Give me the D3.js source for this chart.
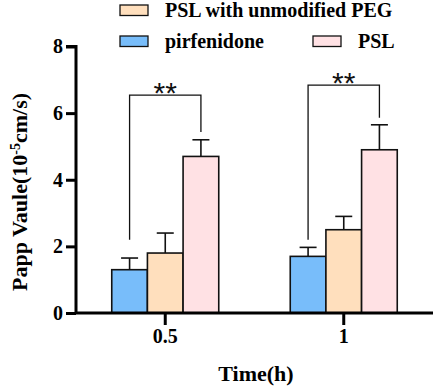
<!DOCTYPE html>
<html><head><meta charset="utf-8">
<script src="https://cdn.jsdelivr.net/npm/d3@7"></script>
<style>body{margin:0;background:#fff}svg{display:block}</style>
</head><body>
<svg id="c" width="436" height="387"></svg>
<script>
const categories = ["0.5", "1"];
const seriesNames = ["pirfenidone", "PSL with unmodified PEG", "PSL"];
const seriesColors = ["#78bdfa", "#ffdfbd", "#ffe1e4"];
const means = [[1.3, 1.8, 4.7], [1.7, 2.5, 4.9]];
const sds = [[0.35, 0.6, 0.5], [0.27, 0.4, 0.75]];
const yTicks = [0, 2, 4, 6, 8];
// significance brackets: [category index, from series, to series, left foot, right foot, top, label]
const brackets = [[0, 0, 2, 2.2, 5.43, 6.54, "**"], [1, 0, 2, 2.2, 5.86, 6.84, "**"]];

const svg = d3.select("#c");
const serif = "'Times New Roman', 'Liberation Serif', 'DejaVu Serif', serif";
const y = d3.scaleLinear().domain([0, 8]).range([313, 46.5]);
const x = d3.scaleBand().domain(categories).range([76, 433]).padding(0);
const groupW = 107;
const xs = d3.scaleBand().domain(d3.range(seriesNames.length)).range([0, groupW]);
const gx = c => x(c) + x.bandwidth() / 2 - groupW / 2;

categories.forEach((c, ci) => {
  means[ci].forEach((m, si) => {
    const bx = gx(c) + xs(si);
    const cx = bx + xs.bandwidth() / 2;
    svg.append("line").attr("x1", cx).attr("x2", cx).attr("y1", y(m)).attr("y2", y(m + sds[ci][si]))
      .attr("stroke", "#111").attr("stroke-width", 1.6);
    svg.append("line").attr("x1", cx - 8.5).attr("x2", cx + 8.5).attr("y1", y(m + sds[ci][si])).attr("y2", y(m + sds[ci][si]))
      .attr("stroke", "#111").attr("stroke-width", 1.6);
    svg.append("rect").attr("x", bx).attr("y", y(m)).attr("width", xs.bandwidth()).attr("height", y(0) - y(m))
      .attr("fill", seriesColors[si]).attr("stroke", "#111").attr("stroke-width", 1.6);
  });
});

brackets.forEach(b => {
  const c = categories[b[0]];
  const x1 = gx(c) + xs(b[1]) + xs.bandwidth() / 2;
  const x2 = gx(c) + xs(b[2]) + xs.bandwidth() / 2;
  svg.append("path").attr("d", `M${x1},${y(b[3])}V${y(b[5])}H${x2}V${y(b[4])}`)
    .attr("fill", "none").attr("stroke", "#111").attr("stroke-width", 1.3);
  svg.append("text").attr("x", (x1 + x2) / 2).attr("y", y(b[5]) + 8).attr("text-anchor", "middle")
    .style("font-family", "Liberation Sans, Arial, sans-serif").style("font-size", "30px").attr("fill", "#111")
    .text(b[6]);
});

const yAxis = svg.append("g").attr("transform", "translate(76,0)")
  .call(d3.axisLeft(y).tickValues(yTicks).tickSize(10).tickPadding(3).tickFormat(d3.format("d")));
const xAxis = svg.append("g").attr("transform", "translate(0,313)")
  .call(d3.axisBottom(x).tickSize(12).tickPadding(4));
[yAxis, xAxis].forEach(g => {
  g.attr("font-family", null);
  g.select(".domain").attr("stroke", "#000").attr("stroke-width", 3);
  g.selectAll(".tick line").attr("stroke", "#000").attr("stroke-width", 3);
  g.selectAll("text").style("font-family", serif).style("font-weight", "bold").style("font-size", "20px").attr("fill", "#000");
});
yAxis.select(".domain").attr("d", "M-10,46.5H0V313");
xAxis.select(".domain").attr("d", "M76,0H433");

svg.append("text").attr("x", 256).attr("y", 381).attr("text-anchor", "middle")
  .style("font-family", serif).style("font-weight", "bold").style("font-size", "22px").text("Time(h)");
const yl = svg.append("text").attr("transform", "translate(27,192) rotate(-90)").attr("text-anchor", "middle")
  .style("font-family", serif).style("font-weight", "bold").style("font-size", "22px");
yl.append("tspan").text("Papp Vaule(10");
yl.append("tspan").attr("dy", -7).style("font-size", "14px").text("-5");
yl.append("tspan").attr("dy", 7).text("cm/s)");

const legendPos = [[120, 36, 165], [120, 5, 165], [313, 36, 358]];
seriesNames.forEach((n, i) => {
  const p = legendPos[i];
  svg.append("rect").attr("x", p[0]).attr("y", p[1]).attr("width", 28).attr("height", 10.5)
    .attr("fill", seriesColors[i]).attr("stroke", "#111").attr("stroke-width", 1.3);
  svg.append("text").attr("x", p[2]).attr("y", p[1] + 12).style("font-family", serif).style("font-weight", "bold")
    .style("font-size", "20px").text(n);
});
</script>
</body></html>
